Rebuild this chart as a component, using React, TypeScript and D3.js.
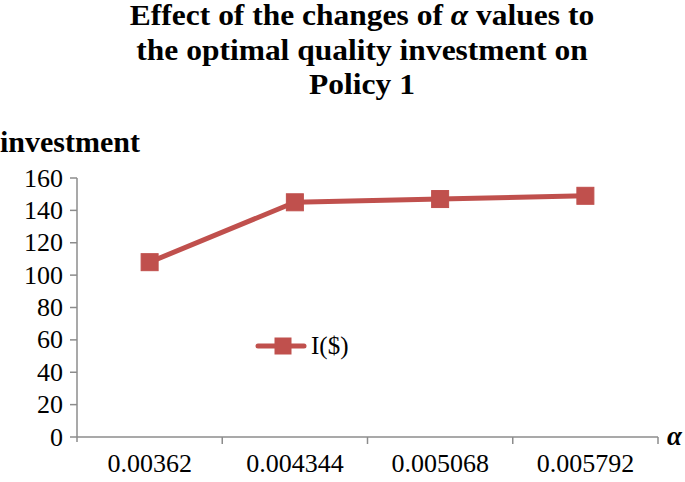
import React from "react";
import * as d3 from "d3";

const categories = ["0.00362", "0.004344", "0.005068", "0.005792"];
const values = [108, 145, 147, 149];
const yTicks = [0, 20, 40, 60, 80, 100, 120, 140, 160];
const titleLines = [
  "Effect of the changes of α values to",
  "the optimal quality investment on",
  "Policy 1",
];
const seriesName = "I($)";

export default function App() {
  const W = 685, H = 482;
  const left = 77, right = 658, top = 178, bottom = 437;
  const x = d3.scaleBand<string>().domain(categories).range([left, right]);
  const y = d3.scaleLinear().domain([0, 160]).range([bottom, top]);
  const color = "#C0504D";
  const axisColor = "#8c8c8c";
  const font = '"Liberation Serif", "DejaVu Serif", serif';
  const line = d3
    .line<number>()
    .x((_, i) => (x(categories[i]) as number) + x.bandwidth() / 2)
    .y((d) => y(d));
  const ms = 17;
  return (
    <svg width={W} height={H} style={{ position: "absolute", left: 0, top: 0, fontFamily: font }}>
      <rect width={W} height={H} fill="#fff" />
      {titleLines.map((t, i) => (
        <text
          key={i}
          transform={`translate(362,${25 + i * 34.5}) scale(1.05,1)`}
          textAnchor="middle"
          fontSize={30}
          fontWeight="bold"
          fill="#000"
          style={{ fontFamily: font }}
        >
          {t.includes("α") ? (
            <>
              {t.split("α")[0]}
              <tspan fontStyle="italic">α</tspan>
              {t.split("α")[1]}
            </>
          ) : (
            t
          )}
        </text>
      ))}
      <text x={0} y={152} fontSize={30} fontWeight="bold" fill="#000" style={{ fontFamily: font }}>investment</text>
      {/* y axis */}
      <line x1={left} x2={left} y1={top} y2={bottom + 5} stroke={axisColor} strokeWidth={1.5} />
      {yTicks.map((t) => (
        <g key={t}>
          <line x1={left - 7} x2={left} y1={y(t)} y2={y(t)} stroke={axisColor} strokeWidth={1.5} />
          <text x={left - 14} y={y(t) + 8.5} textAnchor="end" fontSize={26} fill="#000" style={{ fontFamily: font }}>{t}</text>
        </g>
      ))}
      {/* x axis */}
      <line x1={left} x2={right} y1={bottom} y2={bottom} stroke={axisColor} strokeWidth={1.5} />
      {categories.map((c) => (
        <g key={c}>
          <line
            x1={(x(c) as number) + x.bandwidth()}
            x2={(x(c) as number) + x.bandwidth()}
            y1={bottom}
            y2={bottom + 7}
            stroke={axisColor}
            strokeWidth={1.5}
          />
          <text x={(x(c) as number) + x.bandwidth() / 2} y={472} textAnchor="middle" fontSize={26} fill="#000" style={{ fontFamily: font }}>{c}</text>
        </g>
      ))}
      <text x={667} y={445} fontSize={27} fontWeight="bold" fontStyle="italic" fill="#000" style={{ fontFamily: font }}>α</text>
      {/* series */}
      <path d={line(values) || ""} fill="none" stroke={color} strokeWidth={5} strokeLinejoin="round" />
      {values.map((v, i) => (
        <rect
          key={i}
          x={(x(categories[i]) as number) + x.bandwidth() / 2 - ms / 2}
          y={y(v) - ms / 2}
          width={ms}
          height={ms}
          fill={color}
          stroke={color}
          strokeWidth={1}
        />
      ))}
      {/* legend */}
      <line x1={258} x2={304} y1={346} y2={346} stroke={color} strokeWidth={5} strokeLinecap="round" />
      <rect x={283 - ms / 2} y={346 - ms / 2} width={ms} height={ms} fill={color} />
      <text x={311} y={354} fontSize={25} fill="#000" style={{ fontFamily: font }}>{seriesName}</text>
    </svg>
  );
}
